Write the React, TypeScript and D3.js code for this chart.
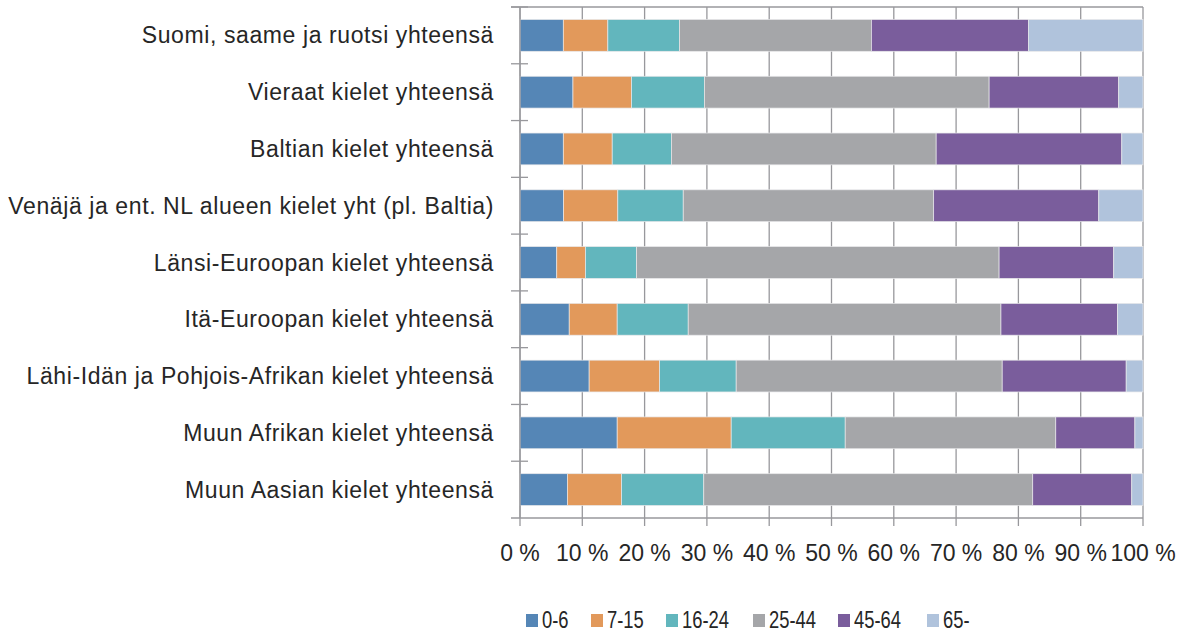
import React from "react";
import * as d3 from "d3";

const categories = [
  "Suomi, saame ja ruotsi yhteensä",
  "Vieraat kielet yhteensä",
  "Baltian kielet yhteensä",
  "Venäjä ja ent. NL alueen kielet yht (pl. Baltia)",
  "Länsi-Euroopan kielet yhteensä",
  "Itä-Euroopan kielet yhteensä",
  "Lähi-Idän ja Pohjois-Afrikan kielet yhteensä",
  "Muun Afrikan kielet yhteensä",
  "Muun Aasian kielet yhteensä",
];
const seriesNames = ["0-6", "7-15", "16-24", "25-44", "45-64", "65-"];
const s0_6 = [6.95, 8.5, 6.95, 7.0, 5.9, 7.9, 11.1, 15.6, 7.6];
const s7_15 = [7.15, 9.4, 7.85, 8.7, 4.6, 7.7, 11.3, 18.3, 8.7];
const s16_24 = [11.5, 11.7, 9.5, 10.5, 8.2, 11.4, 12.3, 18.3, 13.2];
const s25_44 = [30.8, 45.7, 42.5, 40.2, 58.2, 50.2, 42.7, 33.8, 52.8];
const s45_64 = [25.2, 20.8, 29.8, 26.5, 18.4, 18.7, 19.9, 12.7, 15.9];
const s65 = [18.4, 3.9, 3.4, 7.1, 4.7, 4.1, 2.7, 1.3, 1.8];
const seriesValues = [s0_6, s7_15, s16_24, s25_44, s45_64, s65];
const colors = ["#5586b6", "#e2995b", "#62b6bd", "#a5a6a9", "#7a5d9c", "#b0c3dc"];
const xTicks = [0, 10, 20, 30, 40, 50, 60, 70, 80, 90, 100];

const FONT = "'Liberation Sans', Arial, sans-serif";

export default function App() {
  const W = 1184, H = 632;
  const left = 520, right = 1143, top = 7, bottom = 518;
  const x = d3.scaleLinear().domain([0, 100]).range([left, right]);
  const y = d3.scaleBand<string>().domain(categories).range([top, bottom]).paddingInner(0.44).paddingOuter(0.22);
  const band = d3.scaleBand<string>().domain(categories).range([top, bottom]);

  const rows = categories.map((c, i) => {
    const obj: any = { cat: c };
    seriesNames.forEach((s, j) => (obj[s] = seriesValues[j][i]));
    return obj;
  });
  const stacked = d3.stack<any>().keys(seriesNames)(rows);
  const gridColor = "#98989c";
  const textColor = "#262626";

  const legendX = [526, 591, 666, 753, 838, 927];

  return (
    <svg width={W} height={H} style={{ position: "absolute", left: 0, top: 0, background: "#fff" }}>
      {xTicks.map((t) => (
        <line key={"g" + t} x1={x(t)} x2={x(t)} y1={top} y2={bottom} stroke={gridColor} strokeWidth={1.3} />
      ))}
      <line x1={511} x2={right} y1={top} y2={top} stroke={gridColor} strokeWidth={1.3} />
      {stacked.map((s, j) => (
        <g key={s.key} fill={colors[j]}>
          {s.map((d, i) => (
            <rect
              key={i}
              x={x(d[0])}
              y={y(categories[i])}
              width={x(d[1]) - x(d[0])}
              height={y.bandwidth()}
              stroke="#e8e8ea"
              strokeWidth={0.7}
            />
          ))}
        </g>
      ))}
      <line x1={left} x2={left} y1={top} y2={bottom} stroke={gridColor} strokeWidth={1.3} />
      {categories.map((c, i) => (
        <line key={"yt" + i} x1={511} x2={528} y1={band(c)!} y2={band(c)!} stroke={gridColor} strokeWidth={1.3} />
      ))}
      <line x1={511} x2={right} y1={bottom} y2={bottom} stroke={gridColor} strokeWidth={1.3} />
      {xTicks.map((t) => (
        <line key={"xt" + t} x1={x(t)} x2={x(t)} y1={bottom} y2={bottom + 8} stroke={gridColor} strokeWidth={1.3} />
      ))}
      {xTicks.map((t) => (
        <text key={"xl" + t} x={x(t)} y={561} textAnchor="middle" fontFamily={FONT} fontSize={23} fill={textColor}>
          {t} %
        </text>
      ))}
      {categories.map((c) => (
        <text
          key={"l" + c}
          x={494}
          y={y(c)! + y.bandwidth() / 2}
          dy="0.35em"
          textAnchor="end"
          fontFamily={FONT}
          fontSize={23}
          letterSpacing={0.6}
          fill={textColor}
        >
          {c}
        </text>
      ))}
      {seriesNames.map((s, j) => (
        <g key={"lg" + s}>
          <rect x={legendX[j]} y={614} width={12} height={13} fill={colors[j]} />
          <text
            transform={`translate(${legendX[j] + 16},628) scale(0.8,1)`}
            fontFamily={FONT}
            fontSize={23}
            fill={textColor}
          >
            {s}
          </text>
        </g>
      ))}
    </svg>
  );
}
